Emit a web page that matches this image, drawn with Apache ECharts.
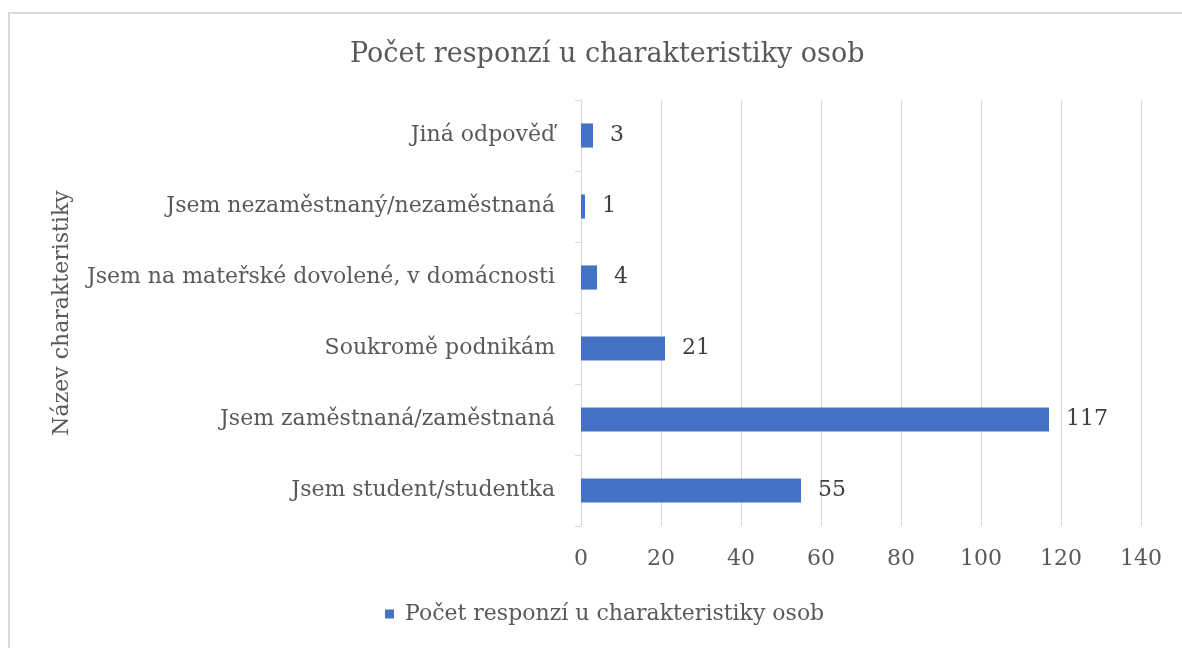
<!DOCTYPE html>
<html>
<head>
<meta charset="utf-8">
<script src="https://cdn.jsdelivr.net/npm/echarts@6/dist/echarts.min.js"></script>
<style>
html, body { margin: 0; padding: 0; background: #fff; }
#chartBox {
    position: absolute; left: 8px; top: 12px;
    width: 1174px; height: 636px;
    border-left: 2px solid #d9d9d9; border-top: 2px solid #d9d9d9;
    box-sizing: border-box;
}
#myChart { position: absolute; left: 0; top: 0; width: 1182px; height: 648px; }
</style>
</head>
<body>
<div id="chartBox"></div>
<div id="myChart"></div>
<script>
// data, bottom to top like in the picture
const categories = [
    'Jsem student/studentka',
    'Jsem zaměstnaná/zaměstnaná',
    'Soukromě podnikám',
    'Jsem na mateřské dovolené, v domácnosti',
    'Jsem nezaměstnaný/nezaměstnaná',
    'Jiná odpověď'
];
const values = [55, 117, 21, 4, 1, 3];
const seriesName = 'Počet responzí u charakteristiky osob';
const xTicks = [0, 140, 20]; // min, max, step

const fontFam = '"DejaVu Serif", serif';
const textColor = '#595959';

let chart = echarts.init(document.getElementById('myChart'));
chart.setOption({
    animation: false,
    title: {
        text: seriesName,
        left: 345,
        top: 36,
        textStyle: { fontFamily: fontFam, fontSize: 27, fontWeight: 'normal', color: textColor }
    },
    legend: {
        bottom: 18,
        left: 380,
        itemWidth: 9,
        itemHeight: 9,
        itemGap: 12,
        icon: 'rect',
        textStyle: { fontFamily: fontFam, fontSize: 22, color: textColor, padding: [0, 0, 0, 6] },
        data: [seriesName]
    },
    grid: { left: 581, right: 41, top: 100, bottom: 122 },
    xAxis: {
        type: 'value',
        min: xTicks[0],
        max: xTicks[1],
        interval: xTicks[2],
        axisLine: { show: false },
        axisTick: { show: false },
        splitLine: { lineStyle: { color: '#d9d9d9', width: 1 } },
        axisLabel: { fontFamily: fontFam, fontSize: 22, color: textColor, margin: 22 }
    },
    yAxis: {
        type: 'category',
        data: categories,
        name: 'Název charakteristiky',
        nameLocation: 'middle',
        nameRotate: 90,
        nameGap: 508,
        nameTextStyle: { fontFamily: fontFam, fontSize: 22, color: textColor },
        axisLine: { lineStyle: { color: '#d9d9d9', width: 1 } },
        axisTick: { show: true, length: 6, lineStyle: { color: '#d9d9d9' } },
        axisLabel: { fontFamily: fontFam, fontSize: 22, color: textColor, margin: 26 }
    },
    series: [{
        name: seriesName,
        type: 'bar',
        data: values,
        barWidth: '34%',
        itemStyle: { color: '#4472c4' },
        label: {
            show: true,
            position: 'right',
            distance: 17,
            fontFamily: fontFam,
            fontSize: 22,
            color: '#404040'
        }
    }]
});
</script>
</body>
</html>
